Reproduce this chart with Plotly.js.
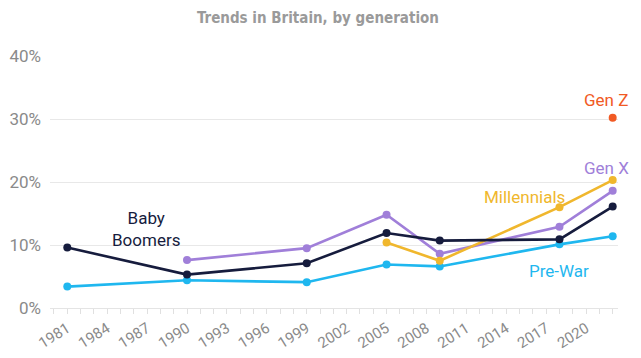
<!DOCTYPE html>
<html>
<head>
<meta charset="utf-8">
<script src="https://cdn.plot.ly/plotly-3.0.1.min.js"></script>
<style>html,body{margin:0;padding:0;background:#fff;}#chart{width:641px;height:358px;}</style>
</head>
<body>
<div id="chart"></div>
<script>
const years = [1981, 1990, 1999, 2005, 2009, 2018, 2022];
const preWar = [3.4, 4.4, 4.1, 6.9, 6.6, 10.1, 11.4];
const babyBoomers = [9.6, 5.3, 7.1, 11.9, 10.7, 10.9, 16.1];
const genXYears = [1990, 1999, 2005, 2009, 2018, 2022];
const genX = [7.6, 9.5, 14.8, 8.6, 12.9, 18.6];
const millYears = [2005, 2009, 2018, 2022];
const millennials = [10.4, 7.5, 16.0, 20.3];
const genZYears = [2022];
const genZ = [30.2];
const xTicks = [1981, 1984, 1987, 1990, 1993, 1996, 1999, 2002, 2005, 2008, 2011, 2014, 2017, 2020];
const yTicks = [0, 10, 20, 30, 40];
const yTickText = ['0%', '10%', '20%', '30%', '40%'];

const C = {pre:'#1fb7ef', bb:'#161c3d', gx:'#a07fd9', mil:'#f0b72d', gz:'#f15a24'};
function tr(x, y, c, name){
  return {x:x, y:y, name:name, type:'scatter', mode:'lines+markers',
    line:{color:c, width:2.6}, marker:{color:c, size:8}, hoverinfo:'skip'};
}
const data = [
  tr(years, preWar, C.pre, 'Pre-War'),
  tr(genXYears, genX, C.gx, 'Gen X'),
  tr(millYears, millennials, C.mil, 'Millennials'),
  tr(years, babyBoomers, C.bb, 'Baby Boomers'),
  tr(genZYears, genZ, C.gz, 'Gen Z')
];
const lf = 'Roboto, "Liberation Sans Narrow", sans-serif';
function ann(text, x, y, c, xanchor){
  return {text:text, x:x, y:y, xref:'x', yref:'y', showarrow:false,
    font:{family:lf, size:17, color:c}, xanchor:xanchor||'center', yanchor:'middle'};
}
const layout = {
  width:641, height:358,
  margin:{l:50, r:23, t:56, b:50},
  paper_bgcolor:'#fff', plot_bgcolor:'#fff',
  showlegend:false,
  title:{text:'<b>Trends in Britain, by generation</b>', x:0.496, xanchor:'center', y:0.95, yanchor:'middle',
    font:{family:'"Liberation Sans Narrow", "DejaVu Sans Condensed", sans-serif', size:15, color:'#9a9a9a'}},
  xaxis:{range:[1979.7, 2022.4], tickvals:xTicks, ticktext:xTicks.map(String), tickangle:-32,
    showgrid:false, zeroline:false, showline:true, linecolor:'#e4e4e4', linewidth:1,
    ticks:'outside', ticklen:5, tickcolor:'#e0e0e0',
    minor:{dtick:1, tick0:1981, ticks:'outside', ticklen:5, tickcolor:'#e0e0e0', showgrid:false},
    tickfont:{family:lf, size:15, color:'#8a8a8a'}},
  yaxis:{range:[0, 40], tickvals:yTicks, ticktext:yTickText, showgrid:true, gridcolor:'#e8e8e8',
    zeroline:false, ticks:'', ticklabelstandoff:8,
    tickfont:{family:lf, size:17, color:'#8a8a8a'}},
  annotations:[
    ann('Gen Z', 2021.5, 33.0, C.gz),
    ann('Gen X', 2021.5, 22.2, C.gx),
    ann('Millennials', 2015.4, 17.6, C.mil),
    ann('Pre-War', 2018.0, 5.8, C.pre),
    ann('Baby<br>Boomers', 1986.9, 12.6, C.bb)
  ]
};
Plotly.newPlot('chart', data, layout, {displayModeBar:false, staticPlot:true});
</script>
</body>
</html>
